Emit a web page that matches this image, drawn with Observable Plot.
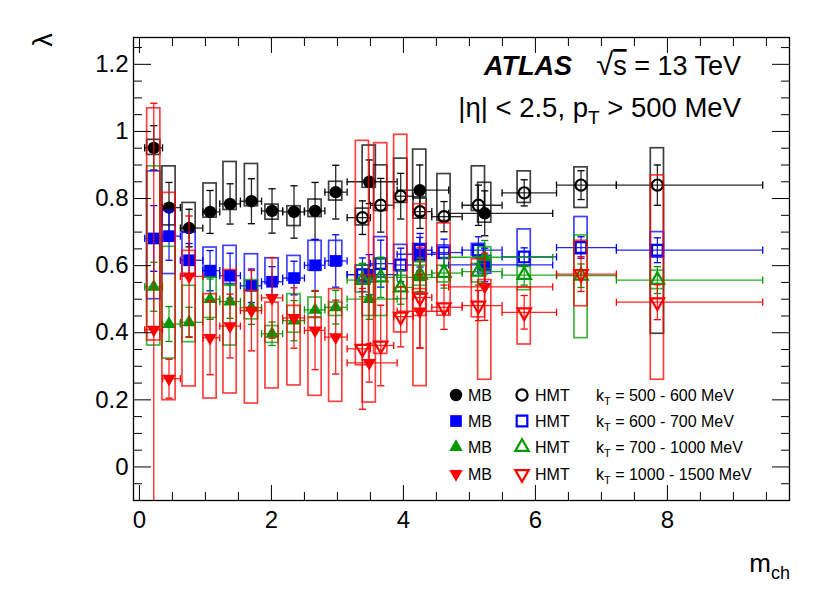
<!DOCTYPE html>
<html><head><meta charset="utf-8">
<script src="https://cdn.jsdelivr.net/npm/d3@7"></script>
<script src="https://cdn.jsdelivr.net/npm/@observablehq/plot@0.6"></script>
<style>
body{margin:0;background:#fff;}
#chart{width:830px;height:596px;}
</style></head><body><div id="chart"></div>
<script>
// ---------- data ----------
const xMB  = [0.217, 0.448, 0.752, 1.070, 1.373, 1.697, 2.009, 2.342, 2.661, 2.974, 3.482, 4.247, 5.232];
const mbEdges = [0.08, 0.35, 0.62, 0.96, 1.217, 1.53, 1.85, 2.17, 2.5, 2.81, 3.147, 3.905, 4.686, 6.262];
const xHMT = [3.379, 3.656, 3.959, 4.252, 4.615, 5.136, 5.830, 6.691, 7.848];
const hmtEdges = [3.147, 3.5, 3.853, 4.147, 4.43, 4.89, 5.495, 6.32, 7.227, 9.444];

// kT = 500-600 MeV
const lamMB1   = [0.951, 0.773, 0.712, 0.760, 0.784, 0.792, 0.763, 0.760, 0.763, 0.819, 0.850, 0.825, 0.756];
const statMB1  = [0.066, 0.075, 0.056, 0.064, 0.060, 0.067, 0.066, 0.078, 0.085, 0.080, 0.065, 0.075, 0.067];
const sysLoMB1 = [0.930, 0.720, 0.700, 0.743, 0.766, 0.777, 0.737, 0.718, 0.745, 0.794, 0.832, 0.804, 0.728];
const sysHiMB1 = [0.975, 0.896, 0.787, 0.845, 0.909, 0.903, 0.782, 0.777, 0.797, 0.850, 0.958, 0.946, 0.847];
const lamHMT1   = [0.743, 0.780, 0.807, 0.761, 0.746, 0.780, 0.817, 0.840, 0.840];
const statHMT1  = [0.050, 0.080, 0.068, 0.050, 0.045, 0.060, 0.039, 0.043, 0.060];
const sysLoHMT1 = [0.720, 0.763, 0.787, 0.740, 0.733, 0.763, 0.787, 0.772, 0.397];
const sysHiHMT1 = [0.770, 0.899, 0.919, 0.800, 0.873, 0.896, 0.881, 0.893, 0.950];

// kT = 600-700 MeV
const lamMB2   = [0.681, 0.688, 0.616, 0.585, 0.570, 0.540, 0.552, 0.563, 0.601, 0.614, 0.573, 0.634, 0.602];
const statMB2  = [0.098, 0.072, 0.050, 0.060, 0.067, 0.050, 0.045, 0.050, 0.077, 0.078, 0.060, 0.050, 0.050];
const sysLoMB2 = [0.500, 0.575, 0.570, 0.565, 0.545, 0.525, 0.545, 0.555, 0.585, 0.600, 0.550, 0.614, 0.576];
const sysHiMB2 = [0.881, 0.763, 0.698, 0.654, 0.659, 0.634, 0.622, 0.629, 0.674, 0.674, 0.600, 0.664, 0.629];
const lamHMT2   = [0.573, 0.606, 0.602, 0.646, 0.639, 0.646, 0.626, 0.654, 0.646];
const statHMT2  = [0.050, 0.070, 0.050, 0.050, 0.040, 0.040, 0.027, 0.032, 0.037];
const sysLoHMT2 = [0.550, 0.565, 0.585, 0.614, 0.620, 0.630, 0.599, 0.634, 0.624];
const sysHiHMT2 = [0.600, 0.685, 0.662, 0.664, 0.660, 0.665, 0.708, 0.745, 0.700];

// kT = 700-1000 MeV
const lamMB3   = [0.537, 0.426, 0.431, 0.500, 0.493, 0.475, 0.397, 0.436, 0.468, 0.476, 0.500, 0.565, 0.625];
const statMB3  = [0.073, 0.052, 0.045, 0.060, 0.050, 0.050, 0.035, 0.060, 0.058, 0.050, 0.060, 0.050, 0.050];
const sysLoMB3 = [0.362, 0.323, 0.372, 0.444, 0.362, 0.440, 0.370, 0.400, 0.446, 0.450, 0.450, 0.520, 0.590];
const sysHiMB3 = [0.896, 0.656, 0.540, 0.565, 0.540, 0.557, 0.420, 0.515, 0.505, 0.490, 0.560, 0.600, 0.655];
const lamHMT3   = [0.557, 0.565, 0.535, 0.573, 0.578, 0.582, 0.572, 0.570, 0.557];
const statHMT3  = [0.050, 0.060, 0.050, 0.050, 0.045, 0.040, 0.030, 0.035, 0.040];
const sysLoHMT3 = [0.520, 0.450, 0.500, 0.540, 0.550, 0.550, 0.527, 0.384, 0.530];
const sysHiHMT3 = [0.600, 0.620, 0.570, 0.610, 0.600, 0.605, 0.596, 0.690, 0.585];

// kT = 1000-1500 MeV
const lamMB4   = [0.409, 0.263, 0.568, 0.385, 0.420, 0.466, 0.504, 0.444, 0.407, 0.387, 0.310, 0.464, 0.537];
const statMB4  = [0.675, 0.058, 0.180, 0.110, 0.095, 0.120, 0.120, 0.090, 0.117, 0.110, 0.057, 0.110, 0.100];
const sysLoMB4 = [0.377, 0.199, 0.240, 0.204, 0.219, 0.189, 0.234, 0.243, 0.212, 0.194, 0.192, 0.450, 0.260];
const sysHiMB4 = [1.069, 0.817, 0.644, 0.515, 0.587, 0.525, 0.490, 0.480, 0.444, 0.530, 0.570, 0.530, 0.557];
const lamHMT4   = [0.352, 0.362, 0.448, 0.505, 0.476, 0.481, 0.461, 0.575, 0.491];
const statHMT4  = [0.180, 0.120, 0.090, 0.150, 0.066, 0.045, 0.050, 0.052, 0.052];
const sysLoHMT4 = [0.303, 0.337, 0.401, 0.241, 0.451, 0.446, 0.365, 0.479, 0.260];
const sysHiHMT4 = [0.972, 0.965, 0.990, 0.783, 0.726, 0.619, 0.535, 0.674, 0.869];

const ktLabels = ["500 - 600 MeV", "600 - 700 MeV", "700 - 1000 MeV", "1000 - 1500 MeV"];
const colors = ["#000000", "#0000ff", "#009a00", "#ff0000"];

const yMajor = [0, 0.2, 0.4, 0.6, 0.8, 1, 1.2];
const xMajor = [0, 2, 4, 6, 8];
const xDomain = [-0.09, 9.85];
const yDomain = [-0.1, 1.28];

// ---------- symbols ----------
const S3 = Math.sqrt(3);
const triDown = {draw(c, s){ const y = -Math.sqrt(s/(S3*3)); c.moveTo(0,-2*y); c.lineTo(-S3*y, y); c.lineTo(S3*y, y); c.closePath(); }};
const hcap = {draw(c, s){ const l = Math.sqrt(s/Math.PI); c.moveTo(-l,0); c.lineTo(l,0); }};
const vcap = {draw(c, s){ const l = Math.sqrt(s/Math.PI); c.moveTo(0,-l); c.lineTo(0,l); }};

const shapes = [
  {sym:"circle", rF:6.2, rO:5.6},
  {sym:"square", rF:6.6, rO:6.0},
  {sym:"triangle", rF:5.0, rO:5.0},
  {sym:triDown, rF:5.0, rO:5.0}
];

const raw = [
  [lamMB1, statMB1, sysLoMB1, sysHiMB1, lamHMT1, statHMT1, sysLoHMT1, sysHiHMT1],
  [lamMB2, statMB2, sysLoMB2, sysHiMB2, lamHMT2, statHMT2, sysLoHMT2, sysHiHMT2],
  [lamMB3, statMB3, sysLoMB3, sysHiMB3, lamHMT3, statHMT3, sysLoHMT3, sysHiHMT3],
  [lamMB4, statMB4, sysLoMB4, sysHiMB4, lamHMT4, statHMT4, sysLoHMT4, sysHiHMT4]
];

function rows(xs, edges, y, st, lo, hi){
  return xs.map((x,i)=>({x, x1:edges[i], x2:edges[i+1], y:y[i], st:st[i], lo:lo[i], hi:hi[i]}));
}

const boxHalf = 0.1;
function seriesMarks(d, c, sym, r, filled){
  const ew = 1.3, cap = 3.6;
  return [
    Plot.rect(d, {x1: v=>v.x-boxHalf, x2: v=>v.x+boxHalf, y1:"lo", y2:"hi", fill:"none", stroke:c, strokeWidth:1.7, strokeOpacity:0.75, clip:true}),
    Plot.ruleY(d, {y:"y", x1:"x1", x2:"x2", stroke:c, strokeWidth:ew, strokeOpacity:0.85, clip:true}),
    Plot.dot(d, {x:"x1", y:"y", symbol:vcap, r:cap, stroke:c, fill:"none", strokeWidth:ew, clip:true}),
    Plot.dot(d, {x:"x2", y:"y", symbol:vcap, r:cap, stroke:c, fill:"none", strokeWidth:ew, clip:true}),
    Plot.ruleX(d, {x:"x", y1:v=>v.y-v.st, y2:v=>v.y+v.st, stroke:c, strokeWidth:ew, strokeOpacity:0.85, clip:true}),
    Plot.dot(d, {x:"x", y:v=>v.y+v.st, symbol:hcap, r:cap, stroke:c, fill:"none", strokeWidth:ew, clip:true}),
    Plot.dot(d, {x:"x", y:v=>v.y-v.st, symbol:hcap, r:cap, stroke:c, fill:"none", strokeWidth:ew, clip:true}),
    Plot.dot(d, {x:"x", y:"y", symbol:sym, r, fill: filled ? c : "none", stroke:c, strokeWidth: filled ? 0 : 2.2, clip:true})
  ];
}

const dataMarks = [];
raw.forEach((s, k) => {
  const c = colors[k], sh = shapes[k];
  dataMarks.push(...seriesMarks(rows(xMB, mbEdges, s[0], s[1], s[2], s[3]), c, sh.sym, sh.rF, true));
  dataMarks.push(...seriesMarks(rows(xHMT, hmtEdges, s[4], s[5], s[6], s[7]), c, sh.sym, sh.rO, false));
});

const yMinor = d3.range(-2, 26).map(i => +(i*0.05).toFixed(2)).filter(v => Math.abs(v/0.2 - Math.round(v/0.2)) > 1e-6);
const xMinor = d3.range(0, 20).map(i => i*0.5).filter(v => v % 2 !== 0 && v <= xDomain[1]);
const noText = () => "";

const plot = Plot.plot({
  width: 830, height: 596,
  marginLeft: 133, marginRight: 41, marginTop: 37, marginBottom: 96,
  style: {fontFamily: "'Liberation Sans', Arial, Helvetica, sans-serif", background: "#ffffff", color: "#000"},
  x: {domain: xDomain, axis: null},
  y: {domain: yDomain, axis: null},
  marks: [
    ...dataMarks,
    Plot.frame({stroke: "#000", strokeWidth: 1.3}),
    // tick labels
    Plot.axisY(yMajor, {anchor: "left", tickSize: 0, tickPadding: 5, fontSize: 24, tickFormat: d => String(d)}),
    Plot.axisX(xMajor, {anchor: "bottom", tickSize: 0, tickPadding: 10, fontSize: 24, tickFormat: d => String(d)}),
    // inward ticks
    Plot.axisY(yMajor, {anchor: "left", tickSize: -18, tickFormat: noText}),
    Plot.axisY(yMinor, {anchor: "left", tickSize: -9, tickFormat: noText}),
    Plot.axisY(yMajor, {anchor: "right", tickSize: -18, tickFormat: noText}),
    Plot.axisY(yMinor, {anchor: "right", tickSize: -9, tickFormat: noText}),
    Plot.axisX(xMajor, {anchor: "bottom", tickSize: -15, tickFormat: noText}),
    Plot.axisX(xMinor, {anchor: "bottom", tickSize: -8, tickFormat: noText}),
    Plot.axisX(xMajor, {anchor: "top", tickSize: -15, tickFormat: noText}),
    Plot.axisX(xMinor, {anchor: "top", tickSize: -8, tickFormat: noText})
  ]
});
document.getElementById("chart").appendChild(plot);

// ---------- annotations & legend ----------
const svg = d3.select(plot);
const ff = "'Liberation Sans', Arial, Helvetica, sans-serif";
const ann = svg.append("g").attr("font-family", ff).attr("fill", "#000").attr("text-anchor", "start");

ann.append("text").attr("x", 484).attr("y", 75).attr("font-size", 27)
  .attr("font-weight", "bold").attr("font-style", "italic").attr("text-anchor", "start").text("ATLAS");
const t1 = ann.append("text").attr("x", 741).attr("y", 75).attr("font-size", 27).attr("text-anchor", "end");
t1.append("tspan").attr("font-size", 31).text("√");
t1.append("tspan").attr("style", "text-decoration: overline").text("s");
t1.append("tspan").text(" = 13 TeV");

const t2 = ann.append("text").attr("x", 741).attr("y", 117).attr("font-size", 27.5).attr("text-anchor", "end");
t2.append("tspan").text("|η| < 2.5, p");
t2.append("tspan").attr("font-size", 19).attr("dy", 7).text("T");
t2.append("tspan").attr("dy", -7).text(" > 500 MeV");

// axis titles
ann.append("text").attr("transform", "translate(52,40) rotate(-90)").attr("font-size", 27)
  .attr("text-anchor", "middle").text("λ");
const tx = ann.append("text").attr("x", 790).attr("y", 572).attr("font-size", 26).attr("text-anchor", "end");
tx.append("tspan").text("m");
tx.append("tspan").attr("font-size", 18).attr("dy", 7).text("ch");

// legend
const legRows = [395, 421, 447, 474];
const symTypes = [d3.symbolCircle, d3.symbolSquare, d3.symbolTriangle, triDown];
const leg = svg.append("g").attr("font-family", ff).attr("font-size", 16).attr("fill", "#000").attr("text-anchor", "start");
legRows.forEach((yy, k) => {
  const c = colors[k], sh = shapes[k];
  const sF = Math.PI*sh.rF*sh.rF, sO = Math.PI*sh.rO*sh.rO;
  leg.append("path").attr("transform", `translate(456,${yy})`).attr("d", d3.symbol(symTypes[k], sF)()).attr("fill", c);
  leg.append("text").attr("x", 468).attr("y", yy + 6).attr("text-anchor", "start").text("MB");
  leg.append("path").attr("transform", `translate(522,${yy})`).attr("d", d3.symbol(symTypes[k], sO)())
     .attr("fill", "none").attr("stroke", c).attr("stroke-width", 2.2);
  leg.append("text").attr("x", 535).attr("y", yy + 6).attr("text-anchor", "start").text("HMT");
  const kt = leg.append("text").attr("x", 596).attr("y", yy + 6).attr("text-anchor", "start");
  kt.append("tspan").text("k");
  kt.append("tspan").attr("font-size", 11).attr("dy", 4).text("T");
  kt.append("tspan").attr("dy", -4).text(" = " + ktLabels[k]);
});
</script></body></html>
